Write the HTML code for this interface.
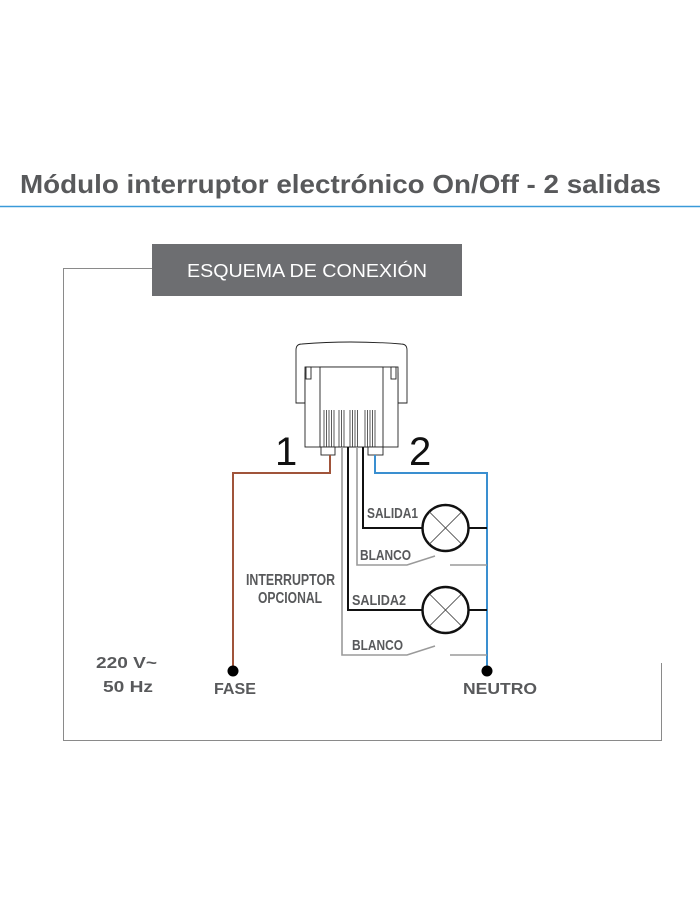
<!DOCTYPE html>
<html><head><meta charset="utf-8"><style>
html,body{margin:0;padding:0;background:#fff;}
svg{display:block;}
text{font-family:"Liberation Sans",sans-serif;}
</style></head><body>
<svg width="700" height="904" viewBox="0 0 700 904" xmlns="http://www.w3.org/2000/svg">
<text x="20" y="193" font-size="26" font-weight="bold" fill="#58595b" textLength="641" lengthAdjust="spacingAndGlyphs">Módulo interruptor electrónico On/Off - 2 salidas</text>
<line x1="0" y1="206.5" x2="700" y2="206.5" stroke="#3a9ad9" stroke-width="1.5"/>
<polyline points="152,268.5 63.5,268.5 63.5,740.5 661.5,740.5 661.5,663" fill="none" stroke="#8a8a8a" stroke-width="1"/>
<rect x="152" y="244" width="310" height="52" fill="#6d6e71"/>
<text x="187" y="277" font-size="18" fill="#fff" textLength="240" lengthAdjust="spacingAndGlyphs">ESQUEMA DE CONEXIÓN</text>
<g fill="#fff" stroke="#222" stroke-width="0.9">
<path d="M296,403 L296,350 Q296,344 302,344 Q350,340 401,344 Q407,344 407,350 L407,403 L398,403 L398,373 L305,373 L305,403 Z"/>
<rect x="305" y="367" width="93" height="80"/>
<rect x="320" y="367" width="63" height="80"/>
<rect x="306" y="367" width="5" height="12"/>
<rect x="391" y="367" width="5" height="12"/>
<rect x="321" y="447" width="14" height="8"/>
<rect x="368" y="447" width="15" height="8"/>
</g>
<g stroke="#333" stroke-width="0.8">
<line x1="324" y1="410" x2="324" y2="447"/><line x1="326.5" y1="410" x2="326.5" y2="447"/><line x1="329" y1="410" x2="329" y2="447"/><line x1="331.5" y1="410" x2="331.5" y2="447"/><line x1="334" y1="410" x2="334" y2="447"/>
<line x1="339" y1="410" x2="339" y2="447"/><line x1="341.5" y1="410" x2="341.5" y2="447"/><line x1="344" y1="410" x2="344" y2="447"/>
<line x1="350" y1="410" x2="350" y2="447"/><line x1="352.5" y1="410" x2="352.5" y2="447"/><line x1="355" y1="410" x2="355" y2="447"/><line x1="357.5" y1="410" x2="357.5" y2="447"/>
<line x1="365" y1="410" x2="365" y2="447"/><line x1="367.5" y1="410" x2="367.5" y2="447"/><line x1="370" y1="410" x2="370" y2="447"/><line x1="372.5" y1="410" x2="372.5" y2="447"/><line x1="375" y1="410" x2="375" y2="447"/>
</g>
<text x="275" y="465" font-size="40" fill="#111">1</text>
<text x="409" y="465" font-size="40" fill="#111">2</text>
<polyline points="330,455 330,473 233,473 233,671" fill="none" stroke="#a0543a" stroke-width="2"/>
<polyline points="375,455 375,473 487,473 487,671" fill="none" stroke="#3a8fd0" stroke-width="2"/>
<polyline points="363,447 363,528 422,528" fill="none" stroke="#111" stroke-width="2"/>
<line x1="469" y1="528" x2="487" y2="528" stroke="#111" stroke-width="2"/>
<polyline points="348,447 348,610 422,610" fill="none" stroke="#111" stroke-width="2"/>
<line x1="469" y1="610" x2="487" y2="610" stroke="#111" stroke-width="2"/>
<polyline points="357,447 357,565 407,565 435,556" fill="none" stroke="#9a9a9a" stroke-width="1.6"/>
<line x1="450" y1="565" x2="487" y2="565" stroke="#9a9a9a" stroke-width="1.6"/>
<polyline points="342,447 342,655 407,655 435,646" fill="none" stroke="#9a9a9a" stroke-width="1.6"/>
<line x1="450" y1="655" x2="487" y2="655" stroke="#9a9a9a" stroke-width="1.6"/>
<g fill="#fff" stroke="#111" stroke-width="2.4">
<circle cx="445.5" cy="528" r="23"/><circle cx="445.5" cy="610" r="23"/>
</g>
<g stroke="#333" stroke-width="0.8">
<line x1="429" y1="511.5" x2="462" y2="544.5"/><line x1="462" y1="511.5" x2="429" y2="544.5"/>
<line x1="429" y1="593.5" x2="462" y2="626.5"/><line x1="462" y1="593.5" x2="429" y2="626.5"/>
</g>
<circle cx="233" cy="671" r="5.5" fill="#000"/>
<circle cx="487" cy="671" r="5.5" fill="#000"/>
<g font-weight="bold" fill="#58595b" font-size="15">
<text x="367" y="518" textLength="51" lengthAdjust="spacingAndGlyphs">SALIDA1</text>
<text x="360" y="560" textLength="51" lengthAdjust="spacingAndGlyphs">BLANCO</text>
<text x="352" y="605" textLength="54" lengthAdjust="spacingAndGlyphs">SALIDA2</text>
<text x="352" y="650" textLength="51" lengthAdjust="spacingAndGlyphs">BLANCO</text>
<text x="246" y="585" font-size="16" textLength="89" lengthAdjust="spacingAndGlyphs">INTERRUPTOR</text>
<text x="258" y="603" font-size="16" textLength="64" lengthAdjust="spacingAndGlyphs">OPCIONAL</text>
<text x="96" y="668" font-size="16" textLength="61" lengthAdjust="spacingAndGlyphs">220 V~</text>
<text x="103" y="692" font-size="16" textLength="50" lengthAdjust="spacingAndGlyphs">50 Hz</text>
<text x="214" y="694" font-size="16" textLength="42" lengthAdjust="spacingAndGlyphs">FASE</text>
<text x="463" y="694" font-size="16" textLength="74" lengthAdjust="spacingAndGlyphs">NEUTRO</text>
</g>
</svg>
</body></html>
